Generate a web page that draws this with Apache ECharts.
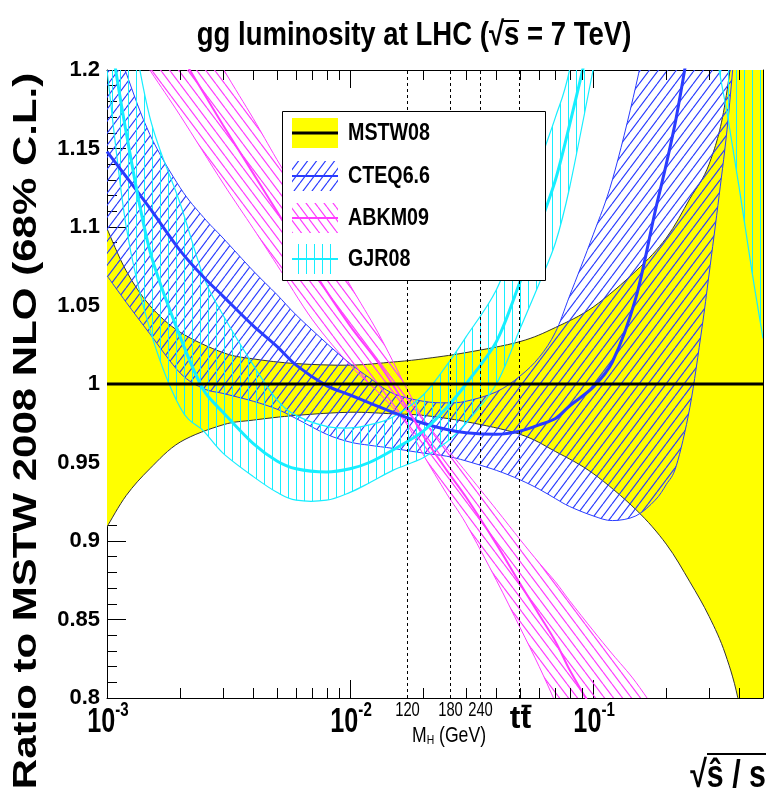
<!DOCTYPE html>
<html>
<head>
<meta charset="utf-8">
<script src="https://cdn.jsdelivr.net/npm/echarts@6/dist/echarts.min.js"></script>
<style>
  html, body { margin: 0; padding: 0; background: #fff; }
  #chart { width: 768px; height: 798px; }
</style>
</head>
<body>
<div id="chart"></div>
<script>
// ratio to MSTW 2008 NLO. x = sqrt(s_hat)/s
const mstwX = [0.001, 0.0012, 0.0015, 0.002, 0.003, 0.004, 0.006, 0.01, 0.015, 0.02, 0.03, 0.05, 0.07, 0.1, 0.15, 0.2, 0.25, 0.3, 0.35, 0.4, 0.45, 0.5];
const mstwHigh = [1.099, 1.072, 1.050, 1.033, 1.020, 1.016, 1.013, 1.012, 1.014, 1.016, 1.020, 1.027, 1.036, 1.049, 1.072, 1.093, 1.118, 1.140, 1.180, 1.26, 1.40, 1.60];
const mstwLow = [0.909, 0.929, 0.946, 0.963, 0.974, 0.977, 0.980, 0.982, 0.981, 0.980, 0.976, 0.968, 0.957, 0.943, 0.920, 0.898, 0.874, 0.852, 0.828, 0.795, 0.74, 0.68];
const mstwCentral = [1, 1, 1, 1, 1, 1, 1, 1, 1, 1, 1, 1, 1, 1, 1, 1, 1, 1, 1, 1, 1, 1];

const cteqX = [0.001, 0.0012, 0.0015, 0.002, 0.0025, 0.003, 0.004, 0.005, 0.006, 0.008, 0.01, 0.012, 0.015, 0.02, 0.025, 0.03, 0.04, 0.05, 0.06, 0.07, 0.08, 0.1, 0.12, 0.15, 0.18, 0.2, 0.22, 0.25, 0.28, 0.3, 0.33, 0.36, 0.4];
const cteqHigh = [1.235, 1.198, 1.159, 1.125, 1.106, 1.093, 1.072, 1.057, 1.044, 1.026, 1.013, 1.004, 0.994, 0.989, 0.988, 0.989, 0.995, 1.005, 1.017, 1.033, 1.056, 1.095, 1.130, 1.19, 1.25, 1.29, 1.33, 1.40, 1.50, 1.55, 1.60, 1.70, 1.80];
const cteqCentral = [1.148, 1.132, 1.112, 1.085, 1.068, 1.056, 1.037, 1.024, 1.012, 0.999, 0.993, 0.988, 0.982, 0.975, 0.971, 0.969, 0.968, 0.970, 0.974, 0.978, 0.986, 0.998, 1.014, 1.055, 1.11, 1.14, 1.17, 1.22, 1.27, 1.30, 1.36, 1.42, 1.50];
const cteqLow = [1.069, 1.052, 1.032, 1.007, 0.997, 0.994, 0.989, 0.984, 0.978, 0.968, 0.963, 0.961, 0.959, 0.956, 0.954, 0.951, 0.945, 0.939, 0.933, 0.927, 0.922, 0.916, 0.913, 0.916, 0.926, 0.936, 0.948, 0.985, 1.035, 1.07, 1.12, 1.17, 1.25];

const abkmX = [0.001, 0.0015, 0.002, 0.003, 0.004, 0.005, 0.007, 0.01, 0.013, 0.017, 0.02, 0.025, 0.03, 0.04, 0.05, 0.06, 0.07, 0.08, 0.1, 0.12, 0.15, 0.2];
const abkmHigh = [1.326, 1.280, 1.248, 1.201, 1.169, 1.143, 1.105, 1.063, 1.033, 0.998, 0.978, 0.959, 0.944, 0.920, 0.901, 0.886, 0.874, 0.862, 0.843, 0.828, 0.810, 0.782];
const abkmCentral = [1.284, 1.240, 1.210, 1.165, 1.134, 1.110, 1.073, 1.037, 1.014, 0.986, 0.967, 0.945, 0.928, 0.898, 0.873, 0.853, 0.836, 0.818, 0.792, 0.77, 0.74, 0.68];
const abkmLow = [1.242, 1.200, 1.171, 1.128, 1.099, 1.076, 1.041, 1.012, 0.995, 0.975, 0.955, 0.930, 0.911, 0.875, 0.845, 0.820, 0.797, 0.775, 0.74, 0.70, 0.65, 0.55];

const gjrX = [0.001, 0.0012, 0.0015, 0.002, 0.0025, 0.003, 0.004, 0.005, 0.006, 0.008, 0.01, 0.012, 0.015, 0.02, 0.025, 0.03, 0.04, 0.05, 0.06, 0.07, 0.08, 0.1, 0.12, 0.15, 0.2, 0.25, 0.3, 0.33, 0.36, 0.4, 0.45, 0.5];
const gjrHigh = [1.33, 1.25, 1.17, 1.115, 1.068, 1.044, 1.012, 0.99, 0.98, 0.973, 0.972, 0.974, 0.979, 0.993, 1.012, 1.03, 1.06, 1.10, 1.14, 1.17, 1.2, 1.28, 1.35, 1.45, 1.55, 1.6, 1.6, 1.6, 1.6, 1.6, 1.6, 1.6];
const gjrCentral = [1.235, 1.16, 1.085, 1.03, 0.996, 0.982, 0.962, 0.951, 0.946, 0.944, 0.946, 0.950, 0.958, 0.970, 0.985, 1.0, 1.027, 1.065, 1.10, 1.13, 1.165, 1.23, 1.3, 1.38, 1.45, 1.5, 1.5, 1.5, 1.5, 1.5, 1.5, 1.5];
const gjrLow = [1.20, 1.10, 1.035, 0.985, 0.970, 0.956, 0.941, 0.931, 0.926, 0.926, 0.931, 0.937, 0.945, 0.953, 0.963, 0.975, 1.0, 1.035, 1.064, 1.09, 1.125, 1.2, 1.26, 1.3, 1.31, 1.28, 1.24, 1.20, 1.168, 1.124, 1.072, 1.029];

// Higgs masses and 2*m_top (GeV) at sqrt(s) = 7 TeV
const sqrtS = 7000;
const markMasses = [120, 180, 240, 346];
const markLabels = ['120', '180', '240', 'tt'];

const xTickValues = [0.001, 0.01, 0.1];
const minorXTicks = [0.002, 0.003, 0.004, 0.005, 0.006, 0.007, 0.008, 0.009,
  0.02, 0.03, 0.04, 0.05, 0.06, 0.07, 0.08, 0.09, 0.2, 0.3, 0.4];

const FONT = '"Liberation Sans", Arial, sans-serif';

const BLUE = '#2a3cff';
const MAGENTA = '#ff3dff';
const CYAN = '#17eeff';
const YELLOW = '#ffff00';

function hatch(color, kind) {
  const w = kind === 'vert' ? 8 : 9;
  const h = kind === 'vert' ? 8 : 12;
  const c = document.createElement('canvas');
  c.width = w; c.height = h;
  const g = c.getContext('2d');
  g.strokeStyle = color;
  g.lineWidth = kind === 'vert' ? 1 : 1.2;
  g.beginPath();
  if (kind === 'vert') {
    g.moveTo(0.5, 0); g.lineTo(0.5, h);
  } else if (kind === 'fwd') {
    for (const o of [-w, 0, w]) { g.moveTo(o, h); g.lineTo(o + w, 0); }
  } else {
    for (const o of [-w, 0, w]) { g.moveTo(o, 0); g.lineTo(o + w, h); }
  }
  g.stroke();
  return { image: c, repeat: 'repeat' };
}

const cteqFill = hatch(BLUE, 'fwd');
const abkmFill = hatch(MAGENTA, 'back');
const gjrFill = hatch(CYAN, 'vert');

// cubic pieces of a smooth curve through pixel points (catmull-rom)
function smoothPath(pts) {
  let d = '';
  for (let i = 0; i < pts.length - 1; i++) {
    const p0 = pts[i - 1] || pts[i], p1 = pts[i], p2 = pts[i + 1], p3 = pts[i + 2] || p2;
    const c1 = [p1[0] + (p2[0] - p0[0]) / 6, p1[1] + (p2[1] - p0[1]) / 6];
    const c2 = [p2[0] - (p3[0] - p1[0]) / 6, p2[1] - (p3[1] - p1[1]) / 6];
    d += ' C' + c1.join(',') + ' ' + c2.join(',') + ' ' + p2.join(',');
  }
  return d;
}

// filled band between lo and hi, with its two edges
function band(xs, lo, hi, color, fill, edgeWidth) {
  return {
    type: 'custom', silent: true, clip: true,
    data: xs.map((x, i) => [x, lo[i], hi[i]]),
    encode: { x: 0, y: [1, 2] },
    renderItem: function (params, api) {
      if (params.dataIndex !== 0) return null;
      const up = [], dn = [];
      for (let i = 0; i < xs.length; i++) {
        up.push(api.coord([api.value(0, i), api.value(2, i)]));
        dn.push(api.coord([api.value(0, i), api.value(1, i)]));
      }
      const n = up.length;
      const upD = smoothPath(up);
      const dnD = smoothPath(dn);
      const dnRev = smoothPath(dn.slice().reverse());
      return {
        type: 'group',
        children: [
          { type: 'path', shape: { pathData: 'M' + up[0].join(',') + upD + ' L' + dn[n - 1].join(',') + dnRev + ' Z' }, style: { fill: fill, stroke: 'none' } },
          { type: 'path', shape: { pathData: 'M' + dn[0].join(',') + dnD }, style: { fill: 'none', stroke: color, lineWidth: edgeWidth } },
          { type: 'path', shape: { pathData: 'M' + up[0].join(',') + upD }, style: { fill: 'none', stroke: color, lineWidth: edgeWidth } }
        ]
      };
    }
  };
}

function centre(name, xs, ys, color, width) {
  return {
    type: 'line', name: name, symbol: 'none', smooth: 0.3, silent: true,
    emphasis: { disabled: true },
    data: xs.map((x, i) => [x, ys[i]]),
    lineStyle: { color: color, width: width }
  };
}

const chart = echarts.init(document.getElementById('chart'));

const yCommon = {
  type: 'value', min: 0.8, max: 1.2, interval: 0.05,
  axisLine: { show: true, lineStyle: { color: '#000', width: 1 } },
  axisTick: { show: true, inside: true, length: 19, lineStyle: { color: '#000', width: 1 } },
  minorTick: { show: true, splitNumber: 5, length: 10, lineStyle: { color: '#000', width: 1 } },
  splitLine: { show: false }
};

const xCommon = {
  type: 'log', logBase: 10, min: 0.001, max: 0.5,
  axisLine: { show: true, lineStyle: { color: '#000', width: 1 } },
  axisTick: { show: true, inside: true, length: 18, lineStyle: { color: '#000', width: 1 } },
  axisLabel: { show: false },
  splitLine: { show: false }
};

const series = [
  band(mstwX, mstwLow, mstwHigh, '#333', YELLOW, 1),
  band(cteqX, cteqLow, cteqHigh, BLUE, cteqFill, 1),
  band(abkmX, abkmLow, abkmHigh, MAGENTA, abkmFill, 1),
  band(gjrX, gjrLow, gjrHigh, CYAN, gjrFill, 1.2),
  centre('CTEQ6.6', cteqX, cteqCentral, BLUE, 3),
  centre('ABKM09', abkmX, abkmCentral, MAGENTA, 2),
  centre('GJR08', gjrX, gjrCentral, CYAN, 3),
  centre('MSTW08', mstwX, mstwCentral, '#000', 3)
];

// dashed reference lines with their labels under the axis
series.push({
  type: 'custom', silent: true, z: 5,
  data: markMasses.map(m => [m / sqrtS, 1]),
  renderItem: function (params, api) {
    const b = api.coord([api.value(0), 0.8]);
    const t = api.coord([api.value(0), 1.2]);
    const px = Math.round(b[0]) + 0.5;
    const i = params.dataIndex;
    const kids = [
      { type: 'line', shape: { x1: px, y1: b[1], x2: px, y2: t[1] }, style: { stroke: '#000', lineWidth: 1, lineDash: [3, 3] } }
    ];
    if (i < 3) {
      kids.push({ type: 'text', x: px, y: b[1] + 2, scaleX: 0.74, style: { text: markLabels[i], font: '20px ' + FONT, fill: '#000', align: 'center', verticalAlign: 'top' } });
    } else {
      kids.push({ type: 'text', x: px + 1, y: b[1] + 5, style: { text: markLabels[i], font: 'bold 32px ' + FONT, fill: '#000', align: 'center', verticalAlign: 'top' } });
      kids.push({ type: 'line', shape: { x1: px + 2, y1: b[1] + 8, x2: px + 12, y2: b[1] + 8 }, style: { stroke: '#000', lineWidth: 2.5 } });
    }
    return { type: 'group', children: kids };
  }
});

// decade labels of the log axis
series.push({
  type: 'custom', silent: true, z: 5,
  data: xTickValues.map(x => [x, 1]),
  renderItem: function (params, api) {
    const b = api.coord([api.value(0), 0.8]);
    const e = Math.round(Math.log10(api.value(0)));
    return {
      type: 'text', x: b[0] + 1, y: b[1] + 2, scaleX: 0.72,
      style: {
        text: '{b|10}{s|' + e + '}', align: 'center', verticalAlign: 'top', fill: '#000',
        rich: {
          b: { font: 'bold 35px ' + FONT, fill: '#000', lineHeight: 40, verticalAlign: 'bottom' },
          s: { font: 'bold 21px ' + FONT, fill: '#000', lineHeight: 21, verticalAlign: 'top' }
        }
      }
    };
  }
});

// minor ticks of the log axis, bottom and top
series.push({
  type: 'custom', silent: true, z: 10,
  data: minorXTicks.map(x => [x, 1]),
  renderItem: function (params, api) {
    const b = api.coord([api.value(0), 0.8]);
    const t = api.coord([api.value(0), 1.2]);
    const px = Math.round(b[0]) + 0.5;
    return {
      type: 'group',
      children: [
        { type: 'line', shape: { x1: px, y1: b[1], x2: px, y2: b[1] - 10 }, style: { stroke: '#000', lineWidth: 1 } },
        { type: 'line', shape: { x1: px, y1: t[1], x2: px, y2: t[1] + 10 }, style: { stroke: '#000', lineWidth: 1 } }
      ]
    };
  }
});

const legendRows = [
  { name: 'MSTW08', fill: YELLOW, line: '#000', lw: 3 },
  { name: 'CTEQ6.6', fill: cteqFill, line: BLUE, lw: 2 },
  { name: 'ABKM09', fill: abkmFill, line: MAGENTA, lw: 2 },
  { name: 'GJR08', fill: gjrFill, line: CYAN, lw: 2 }
];
const legendChildren = [
  { type: 'rect', z: 100, shape: { x: 0.5, y: 0.5, width: 263, height: 169 }, style: { fill: '#fff', stroke: '#000', lineWidth: 1 } }
];
legendRows.forEach((r, i) => {
  const yc = [22, 65, 107, 148][i];
  legendChildren.push({ type: 'rect', z: 101, shape: { x: 10, y: yc - 15, width: 46, height: 30 }, style: { fill: r.fill } });
  legendChildren.push({ type: 'line', z: 102, shape: { x1: 10, y1: yc, x2: 56, y2: yc }, style: { stroke: r.line, lineWidth: r.lw } });
  legendChildren.push({ type: 'text', z: 102, x: 66, y: yc, scaleX: 0.82, style: { text: r.name, font: 'bold 24px ' + FONT, fill: '#000', align: 'left', verticalAlign: 'middle' } });
});

chart.setOption({
  animation: false,
  backgroundColor: '#fff',
  grid: { left: 107, right: 5, top: 70, bottom: 100, outerBoundsMode: 'none' },
  xAxis: [
    Object.assign({}, xCommon, { position: 'bottom' }),
    Object.assign({}, xCommon, { position: 'top' })
  ],
  yAxis: [
    Object.assign({}, yCommon, {
      position: 'left',
      axisLabel: {
        color: '#000', fontSize: 22, fontWeight: 'bold', fontFamily: FONT, margin: 7,
        formatter: v => String(+v.toFixed(2))
      }
    }),
    Object.assign({}, yCommon, { position: 'right', axisLabel: { show: false } })
  ],
  series: series,
  graphic: [
    { type: 'text', z: 100, x: 414, y: 36, scaleX: 0.81, style: { text: 'gg luminosity at LHC (\u221As = 7 TeV)', font: 'bold 34px ' + FONT, fill: '#000', align: 'center', verticalAlign: 'middle' } },
    { type: 'line', z: 100, shape: { x1: 503, y1: 21, x2: 519, y2: 21 }, style: { stroke: '#000', lineWidth: 2 } },
    { type: 'text', z: 100, x: 27, y: 431, rotation: Math.PI / 2, scaleY: 0.8, style: { text: 'Ratio to MSTW 2008 NLO (68% C.L.)', font: 'bold 42px ' + FONT, fill: '#000', align: 'center', verticalAlign: 'middle' } },
    { type: 'text', z: 100, x: 766, y: 796, scaleX: 0.8, style: { text: '\u221A\u015D / s', font: 'bold 38px ' + FONT, fill: '#000', align: 'right', verticalAlign: 'bottom' } },
    { type: 'line', z: 100, shape: { x1: 707, y1: 754, x2: 766, y2: 754 }, style: { stroke: '#000', lineWidth: 2 } },
    { type: 'text', z: 100, x: 449, y: 736, scaleX: 0.8, style: {
      text: '{m|M}{h|H} (GeV)', font: '22px ' + FONT, fill: '#000', align: 'center', verticalAlign: 'middle',
      rich: { m: { font: '22px ' + FONT }, h: { font: '13px ' + FONT, verticalAlign: 'bottom' } }
    } },
    { type: 'group', x: 282, y: 111, children: legendChildren }
  ]
});
</script>
</body>
</html>
